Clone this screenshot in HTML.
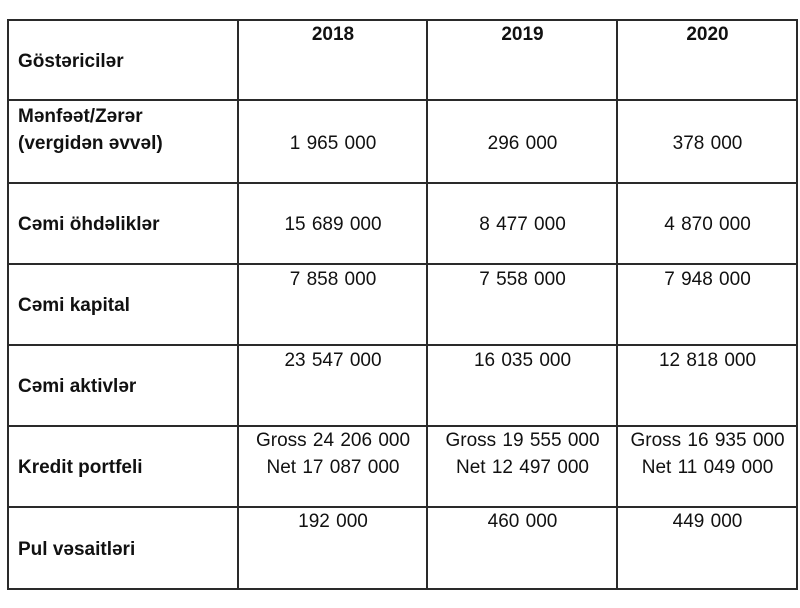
<!DOCTYPE html>
<html>
<head>
<meta charset="utf-8">
<style>
  html,body{margin:0;padding:0;background:#fff;}
  body{width:800px;height:608px;position:relative;overflow:hidden;
       font-family:"Liberation Sans",sans-serif;font-size:19px;color:#111;}
  .h{position:absolute;left:7px;width:791px;height:2px;background:#2a2a2a;}
  .v{position:absolute;top:19px;height:571px;width:2px;background:#2a2a2a;}
  .t{position:absolute;line-height:27px;white-space:nowrap;}
  .b{font-weight:bold;}
  .lab{left:18px;}
  .c1{left:239px;width:188px;text-align:center;}
  .c2{left:428px;width:189px;text-align:center;}
  .c3{left:618px;width:179px;text-align:center;}
  .n{word-spacing:1px;}
</style>
</head>
<body>
<div class="h" style="top:19px"></div>
<div class="h" style="top:99px"></div>
<div class="h" style="top:182px"></div>
<div class="h" style="top:263px"></div>
<div class="h" style="top:344px"></div>
<div class="h" style="top:425px"></div>
<div class="h" style="top:506px"></div>
<div class="h" style="top:588px"></div>

<div class="v" style="left:7px"></div>
<div class="v" style="left:237px"></div>
<div class="v" style="left:426px"></div>
<div class="v" style="left:616px"></div>
<div class="v" style="left:796px"></div>

<!-- header -->
<div class="t b lab" style="top:48px">Göstəricilər</div>
<div class="t b c1" style="top:21px">2018</div>
<div class="t b c2" style="top:21px">2019</div>
<div class="t b c3" style="top:21px">2020</div>

<!-- row 1 -->
<div class="t b lab" style="top:103px">Mənfəət/Zərər<br>(vergidən əvvəl)</div>
<div class="t c1 n" style="top:130px">1 965 000</div>
<div class="t c2 n" style="top:130px">296 000</div>
<div class="t c3 n" style="top:130px">378 000</div>

<!-- row 2 -->
<div class="t b lab" style="top:211px">Cəmi öhdəliklər</div>
<div class="t c1 n" style="top:211px">15 689 000</div>
<div class="t c2 n" style="top:211px">8 477 000</div>
<div class="t c3 n" style="top:211px">4 870 000</div>

<!-- row 3 -->
<div class="t b lab" style="top:292px">Cəmi kapital</div>
<div class="t c1 n" style="top:266px">7 858 000</div>
<div class="t c2 n" style="top:266px">7 558 000</div>
<div class="t c3 n" style="top:266px">7 948 000</div>

<!-- row 4 -->
<div class="t b lab" style="top:373px">Cəmi aktivlər</div>
<div class="t c1 n" style="top:347px">23 547 000</div>
<div class="t c2 n" style="top:347px">16 035 000</div>
<div class="t c3 n" style="top:347px">12 818 000</div>

<!-- row 5 -->
<div class="t b lab" style="top:454px">Kredit portfeli</div>
<div class="t c1 n" style="top:427px">Gross 24 206 000<br>Net 17 087 000</div>
<div class="t c2 n" style="top:427px">Gross 19 555 000<br>Net 12 497 000</div>
<div class="t c3 n" style="top:427px">Gross 16 935 000<br>Net 11 049 000</div>

<!-- row 6 -->
<div class="t b lab" style="top:536px">Pul vəsaitləri</div>
<div class="t c1 n" style="top:508px">192 000</div>
<div class="t c2 n" style="top:508px">460 000</div>
<div class="t c3 n" style="top:508px">449 000</div>
</body>
</html>
